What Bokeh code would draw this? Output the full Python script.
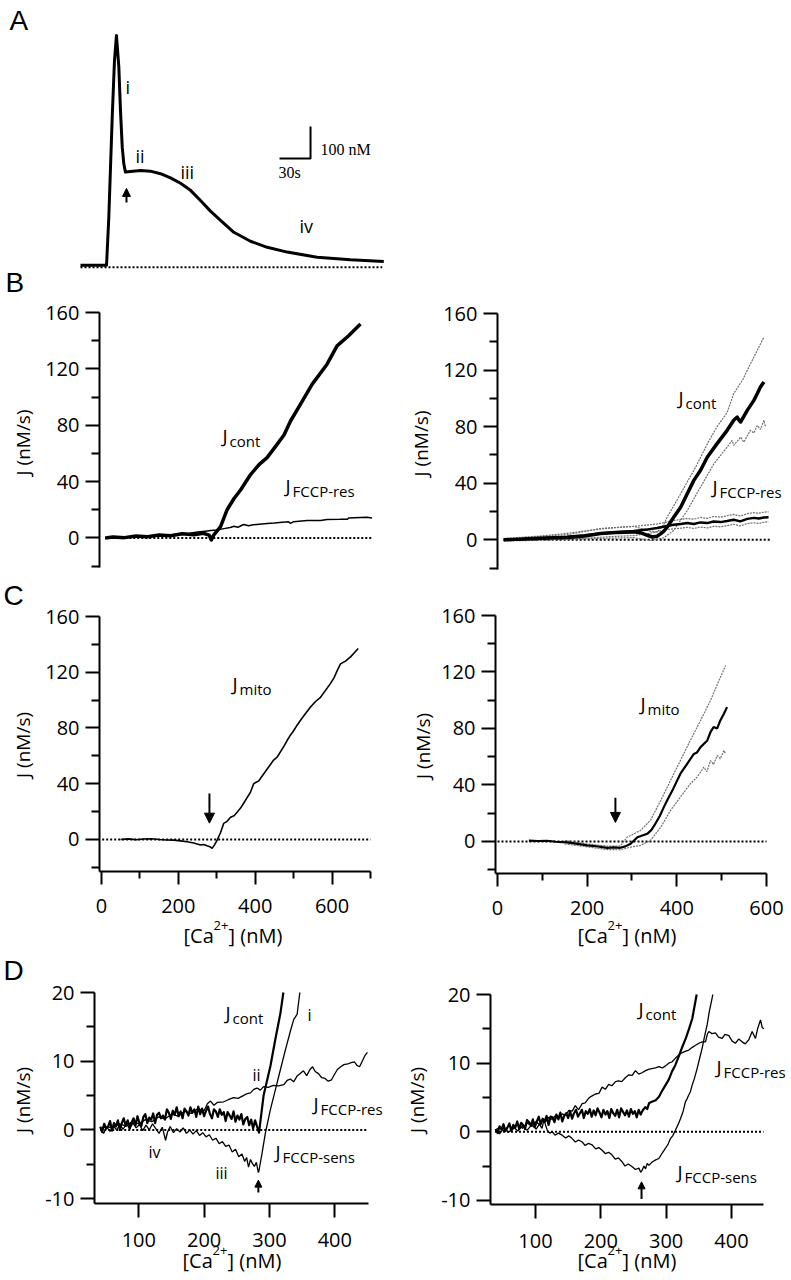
from bokeh.plotting import figure
from bokeh.models import Range1d, FixedTicker, Label, Arrow, NormalHead, LinearAxis
from bokeh.embed import file_html
from bokeh.resources import INLINE

SANS = "Open Sans"
SERIF = "Liberation Serif"
LETTER = "Liberation Sans"

# ---------------- DATA ----------------
# Panel A: [Ca2+] transient (time s, Ca nM)
a_time = [0.0, 25.2, 27.4, 30.7, 32.9, 34.8, 37.1, 38.7, 40.4, 41.9, 43.5, 58.1, 67.7, 77.4, 87.1,
          96.8, 106.5, 116.1, 125.8, 135.5, 148.4, 164.5, 180.7, 200.0, 229.0, 261.3, 293.5]
a_ca = [44, 44, 194, 507, 684, 762, 663, 527, 413, 361, 335, 340, 338, 330, 317,
        300, 278, 246, 213, 184, 147, 119, 100, 85, 69, 61, 56]
a_rest_t = [0.0, 292.0]
a_rest_ca = [38, 38]
a_scale_t, a_scale_ca = 30, 100          # scale bar: 30 s, 100 nM
a_scale_anchor = (222.6, 377.5)
a_arrow = dict(x=44.5, y0=240, y1=284)

# Panel B left: J_cont and J_FCCP-res vs [Ca]
bl_cont_x = [10, 30, 60, 90, 120, 150, 180, 210, 240, 265, 280, 286, 292, 301, 310, 327, 345, 362, 388, 410,
             431, 457, 475, 492, 518, 548, 587, 613, 643, 674]
bl_cont_y = [0, 0.6, 0.2, 1.3, 0.9, 2.0, 1.5, 2.9, 2.2, 3.3, 2.0, -1.5, 2.0, 5, 8, 20, 28, 34, 45, 52,
             57, 66.4, 73, 83, 94.9, 109, 123.3, 136.3, 143.5, 151.8]
bl_res_x = [10, 40, 80, 120, 160, 200, 230, 250, 270, 285, 300, 319, 335, 345, 355, 370, 383, 395, 431, 450,
            470, 487, 492, 500, 535, 570, 587, 620, 640, 643, 690, 704]
bl_res_y = [0, 0.3, 0.7, 1.2, 1.8, 2.6, 3.4, 4.2, 4.8, 5.2, 5.6, 6.6, 7.4, 8.3, 7.6, 9.5, 8.6, 9.3, 10.2, 10.6,
            11.2, 11.4, 10.3, 11.5, 12.3, 12.4, 13.1, 13.2, 13.3, 14.2, 14.7, 14.2]
bl_zero_x = [10, 705]

# Panel B right: mean +/- SEM
br_cont_x = [11, 40, 80, 120, 175, 220, 261, 300, 347, 364, 382, 395, 407, 416, 424, 433, 450, 468, 485, 502,
             519, 537, 562, 588, 605, 614, 619, 623, 640, 657, 666, 674, 683]
br_cont_y = [0, 0.3, 0.8, 1.2, 1.7, 2.6, 4.5, 5.2, 5.6, 5.0, 3.2, 2.0, 2.5, 4.2, 6.0, 8.9, 16, 23, 32.6, 42,
             49, 58.5, 68, 77.4, 84.5, 86.8, 84.5, 83.3, 91.5, 98.6, 103.4, 108, 111.6]
br_cont_hi_x = [11, 80, 175, 261, 347, 390, 407, 424, 433, 450, 468, 485, 502, 519, 537, 562, 588, 605, 630, 640, 666, 683]
br_cont_hi_y = [0.8, 1.8, 3.6, 8.0, 9.5, 6.0, 5.6, 10.5, 16, 24, 32.6, 41, 49, 58, 68, 80, 90, 103.4, 114, 119.9, 134, 143.4]
br_cont_lo_x = [11, 80, 175, 261, 347, 390, 424, 450, 485, 519, 554, 588, 601, 605, 623, 631, 648, 657, 666, 674, 683, 687]
br_cont_lo_y = [-0.6, -0.2, 0.4, 1.0, 1.5, -0.5, 1.4, 6.6, 20.7, 37.2, 53.8, 65.6, 70.3, 66.8, 72.6, 69, 77.4, 75.5, 80.9, 78, 84.5, 80]
br_res_x = [11, 60, 120, 175, 220, 261, 300, 347, 380, 407, 433, 450, 468, 485, 502, 519, 537, 553, 571, 588,
            605, 622, 640, 657, 670, 683, 695]
br_res_y = [0, 0.5, 1.2, 2.2, 3.3, 4.5, 5.3, 6.2, 7.2, 8.3, 9.8, 10.6, 11.2, 11.8, 11.2, 12.3, 11.8, 12.9, 12.5, 13.3,
            14.2, 13.0, 14.8, 15.5, 15.0, 15.8, 16.0]
br_res_hi = [0.8, 1.8, 3.0, 4.6, 6.2, 7.6, 8.6, 9.5, 10.4, 11.2, 12.6, 13.6, 14.4, 15.0, 14.6, 15.8, 15.2, 16.5, 16.0, 17.0,
             18.0, 16.8, 18.5, 19.2, 18.8, 19.5, 19.8]
br_res_lo = [-0.8, -0.6, -0.2, 0.4, 1.0, 1.8, 2.4, 3.0, 4.2, 5.6, 7.2, 7.8, 8.2, 8.8, 8.0, 9.0, 8.4, 9.5, 9.2, 10.0,
             11.0, 9.8, 11.5, 12.0, 11.6, 12.4, 12.8]
br_zero_x = [11, 700]

# Panel C left: J_mito
cl_x = [50, 70, 90, 110, 128, 150, 170, 188, 205, 223, 240, 258, 266, 275, 282, 288, 295, 301, 310, 318,
        327, 336, 345, 353, 362, 370, 379, 388, 396, 409, 422, 435, 448, 457, 466, 475, 483, 492, 500, 509,
        518, 530, 544, 557, 570, 583, 596, 605, 613, 622, 635, 648, 658, 668]
cl_y = [0, 0.4, -0.2, 0.3, 0.5, 0.0, -0.4, -0.5, -1.0, -1.7, -2.5, -4.0, -3.6, -4.6, -5.2, -6.4, -3.5, -0.5, 5, 11.5,
        13, 16, 17, 19.5, 22.5, 26, 30, 34, 40, 42, 47, 52, 57, 59, 63, 67, 71, 75, 78, 82,
        85.5, 90, 95, 99, 102, 107, 112, 116, 121, 126, 128, 131, 134, 137]
cl_zero_x = [2, 700]
cl_arrow = dict(x=281, y0=33, y1=11.7)

# Panel C right: J_mito mean +/- SEM
cr_x = [70, 90, 110, 130, 155, 175, 200, 220, 245, 260, 274, 285, 297, 312, 323, 334, 343, 352, 362, 371,
        380, 390, 399, 408, 423, 438, 445, 453, 460, 468, 475, 482, 490, 497, 505, 512]
cr_y = [0.6, 0.3, 0.5, -0.2, -0.6, -1.5, -2.8, -3.4, -4.5, -4.2, -4.5, -3.5, -1.6, 3.0, 4.2, 5.4, 8.0, 12.5, 18, 24.3,
        30, 36, 42, 48, 55, 62, 63, 66.8, 69, 71.5, 77.4, 81, 80, 85.7, 90.4, 95.1]
cr_hi_x = [150, 200, 245, 274, 289, 305, 319, 341, 364, 386, 408, 430, 453, 475, 494, 509]
cr_hi_y = [0.6, -1.8, -3.3, -3.2, 3, 5.5, 7.8, 14.9, 29, 43.2, 57.3, 71.5, 85.7, 99.8, 114, 124.6]
cr_lo_x = [150, 200, 245, 274, 297, 319, 341, 364, 386, 408, 430, 445, 454, 460, 467, 475, 482, 490, 497, 505, 509]
cr_lo_y = [-1.8, -3.8, -5.8, -5.9, -4, -2.8, 0.7, 10, 22, 31.4, 40.8, 45.5, 49.5, 52.6, 49.5, 57.3, 54.5, 60.9, 58.5, 64.4, 62]
cr_zero_x = [0, 600]
cr_arrow = dict(x=263, y0=31, y1=13.5)

# Panel D left
dl_cont_x = [41, 44, 47, 50, 53, 56, 59, 62, 65, 68, 71, 74, 77, 80, 83, 86, 89, 92, 95, 98,
             101, 104, 107, 110, 113, 116, 119, 122, 125, 128, 131, 134, 137, 140, 143, 146, 149, 152, 155, 158,
             161, 164, 167, 170, 173, 176, 179, 182, 185, 188, 191, 194, 197, 200, 203, 206, 209, 212, 215, 218,
             221, 224, 227, 230, 233, 236, 239, 242, 245, 248, 251, 254, 257, 260, 263, 266, 269, 272, 275, 278,
             281, 284, 291, 301.5, 309, 316.8, 321.3]
dl_cont_y = [0.5, -0.3, 0.9, 0.2, 0.5, 1.3, -0.1, 1.0, 0.5, 1.4, 0.0, 1.0, 1.7, 0.6, 1.4, 0.2, 1.1, 1.7, 0.7, 2.0,
             1.0, 0.6, 1.9, 2.3, 1.0, 1.8, 1.5, 2.4, 1.0, 2.2, 2.5, 1.7, 2.1, 1.5, 3.0, 2.5, 1.6, 2.8, 2.2, 3.3,
             2.0, 2.7, 1.7, 3.1, 2.7, 2.1, 3.3, 2.5, 3.0, 1.9, 3.4, 2.3, 3.1, 2.0, 2.8, 3.4, 2.3, 1.7, 3.0, 2.7,
             1.9, 3.0, 2.2, 2.6, 1.3, 2.6, 2.1, 1.6, 2.7, 1.2, 2.1, 1.5, 2.3, 0.8, 1.6, 1.9, 0.7, 1.5, 0.2, 1.4,
             0.5, -0.4, 5.0, 9.3, 13.2, 17.0, 20.0]
dl_res_x = [41, 50, 60, 70, 80, 90, 100, 110, 120, 130, 140, 150, 160, 170, 180, 190, 200, 205, 209.7, 215,
            220, 230, 237, 245, 252, 260, 266, 271, 276, 281, 286, 291, 298, 306, 314, 322, 327, 332, 337, 342,
            347, 352, 357, 362, 366, 370, 375, 380, 385, 390, 395, 399, 404, 409, 414, 420, 425, 430, 434, 438,
            442, 446, 450]
dl_res_y = [0.2, 0.5, 0.3, 0.9, 0.6, 1.2, 0.9, 1.5, 1.2, 1.9, 1.6, 2.3, 2.0, 2.7, 2.4, 3.1, 2.8, 3.8, 4.2, 3.6,
            4.0, 4.1, 4.4, 4.7, 4.6, 5.0, 5.3, 5.4, 5.9, 6.1, 5.8, 6.3, 6.2, 6.5, 6.4, 6.6, 7.2, 7.4, 7.0, 7.8,
            8.2, 8.6, 7.9, 8.8, 9.2, 8.5, 8.2, 7.6, 7.5, 7.1, 7.3, 8.0, 8.8, 9.2, 9.5, 9.6, 9.8, 9.9, 9.4, 9.2,
            10.0, 10.8, 11.3]
dl_sens_x = [41, 46, 51, 56, 61, 66, 71, 76, 81, 86, 91, 96, 101, 106, 111, 116, 121, 126, 131, 136,
             141, 144, 148, 153, 158, 163, 168, 173, 178, 183, 188, 193, 198, 203, 208, 213, 218, 223, 228, 233,
             238, 243, 248, 253, 258, 262, 265, 268, 271, 274, 277, 280, 283, 284, 288.8, 293.9, 301.5, 309.2, 316.8, 324.5,
             332.1, 337.2, 342.3, 346.5]
dl_sens_y = [0.2, -0.5, 0.4, -0.2, 0.6, 0.0, 0.8, 0.1, 0.9, 0.2, 1.0, 0.3, 0.8, -0.1, 0.7, 0.0, 0.9, 0.2, -0.5, 0.4,
             -1.5, -0.3, 0.5, -0.4, 0.2, -0.3, 0.3, -0.5, 0.0, -0.6, -0.1, -0.8, -0.4, -1.0, -0.7, -1.5, -1.2, -2.0, -1.7, -2.4,
             -2.2, -3.2, -2.8, -3.9, -3.5, -4.6, -4.0, -5.4, -4.3, -4.9, -5.3, -4.7, -6.2, -5.9, -3.3, -0.4, 3.0, 5.9, 8.8, 11.7,
             14.4, 16.1, 16.8, 20.0]
dl_zero_x = [41, 451]
dl_arrow = dict(x=283, y0=-9.1, y1=-7.3)

# Panel D right
dr_cont_x = [39, 42, 45, 48, 51, 54, 57, 60, 63, 66, 69, 72, 75, 78, 81, 84, 87, 90, 93, 96,
             99, 102, 105, 108, 111, 114, 117, 120, 123, 126, 129, 132, 135, 138, 141, 144, 147, 150, 153, 156,
             159, 162, 165, 168, 171, 174, 177, 180, 183, 186, 189, 192, 195, 198, 201, 204, 207, 210, 213, 216,
             219, 222, 225, 228, 231, 234, 237, 240, 243, 246, 249, 252, 255, 258, 261, 264,
             268, 271, 274, 279, 284, 289, 294, 299, 304, 309, 314, 319, 324, 330, 335, 340, 346.7]
dr_cont_y = [0.4, -0.2, 0.8, 0.3, 1.1, 0.1, 0.6, 1.2, 0.1, 1.0, 0.6, 1.5, 0.4, 1.3, 1.0, 0.4, 1.7, 1.4, 0.9, 1.8,
             0.7, 1.5, 2.2, 1.1, 1.9, 1.5, 2.3, 1.0, 2.2, 2.1, 1.4, 2.5, 1.8, 2.8, 1.5, 2.3, 2.7, 2.0, 3.0, 1.9,
             2.7, 3.2, 2.2, 2.7, 3.2, 2.0, 3.0, 2.6, 3.3, 2.2, 3.1, 2.4, 3.4, 2.8, 2.1, 3.2, 2.5, 3.0, 2.0, 3.3,
             2.7, 2.3, 3.2, 2.1, 3.4, 2.9, 2.4, 3.1, 2.2, 3.3, 2.6, 3.0, 2.1, 3.2, 2.5, 3.1,
             3.6, 3.3, 4.2, 4.4, 4.6, 5.1, 6.0, 6.8, 7.6, 8.8, 9.7, 10.9, 12.2, 13.6, 15.0, 16.5, 20.0]
dr_res_x = [38.8, 45, 52, 59, 66, 73, 80, 87, 94, 101, 106, 110.2, 115, 120, 125.5, 131, 136, 140.8, 146, 151,
            156.1, 161, 166, 171.4, 176, 181.6, 186, 191.8, 197, 202, 207.1, 212, 217, 222.4, 227, 232, 237.8, 243, 248, 253,
            258, 263, 268.4, 273, 278, 283.7, 289, 294, 299, 304, 309.2, 314, 319.4, 324, 329, 334.7, 340, 345, 350, 355,
            360.2, 363, 365.3, 370, 375.5, 380, 385.7, 390, 396, 401, 406, 411, 416.3, 421, 426.5, 431.6, 436.7, 440, 444.4, 447,
            449.5]
dr_res_y = [0.2, 0.7, 0.1, 0.9, 0.4, 1.1, 0.5, 1.3, 0.8, 1.5, 1.0, 1.7, 1.4, 2.1, 1.8, 2.4, 2.0, 2.6, 2.4, 3.1,
            3.0, 3.8, 3.2, 4.1, 4.2, 4.9, 5.2, 5.5, 5.6, 6.5, 6.2, 6.9, 6.7, 7.3, 7.4, 7.3, 7.9, 8.3, 8.2, 8.9,
            8.4, 8.6, 8.9, 9.1, 9.2, 9.3, 9.5, 9.3, 9.6, 10.0, 10.2, 10.7, 11.2, 11.5, 11.7, 11.9, 12.3, 12.6, 12.9, 13.1,
            13.1, 14.2, 14.6, 14.3, 14.4, 13.8, 13.6, 14.2, 14.0, 13.2, 12.9, 13.5, 13.1, 12.8, 13.4, 14.6, 13.6, 15.0, 16.3, 15.2,
            15.0]
dr_sens_x = [38.8, 45, 52, 59, 66, 73, 80, 87, 94, 101, 106, 110, 113, 115.3, 118, 122, 125.5, 130, 135, 140.8,
             146, 151, 156.1, 161, 166, 171.4, 176, 181, 186.7, 192, 197, 202, 207, 212, 217.3, 222, 227, 232.7, 237, 242,
             248, 253, 258.2, 261, 263.3, 266, 268.4, 271, 273.5, 278.6, 284, 288.8, 294, 299, 303, 306.6, 310, 314.3, 318, 321.9,
             326, 329.6, 332, 334.7, 337, 339.8, 343, 347.4, 351, 355.1, 359, 362.8, 366, 370.4, 371.3]
dr_sens_y = [0.3, -0.3, 0.6, -0.1, 0.7, 0.1, 0.9, 0.2, 1.0, 0.4, 1.1, 0.5, 1.8, 1.0, 0.2, -0.2, 0.0, -0.5, -0.2, -0.5,
             -0.9, -0.6, -1.0, -1.5, -1.2, -1.5, -2.0, -1.7, -1.9, -2.5, -2.3, -2.7, -3.2, -3.0, -3.4, -4.0, -3.8, -4.4, -5.0, -4.7,
             -5.1, -5.5, -5.3, -5.9, -5.6, -5.0, -5.4, -4.6, -4.9, -4.4, -4.1, -3.9, -3.1, -2.4, -1.8, -1.0, -0.6, 0.25, 1.0, 1.9,
             3.0, 4.4, 4.8, 5.4, 5.8, 6.8, 7.7, 9.2, 10.6, 12.2, 14.0, 15.6, 17.5, 19.5, 20.0]
dr_zero_x = [38, 449]
dr_arrow = dict(x=262.3, y0=-9.8, y1=-7.3)

# axis ticks and titles
bc_y_major = [0, 40, 80, 120, 160]
bc_y_minor = [-20, 20, 60, 100, 140]
cl_x_major = [0, 200, 400, 600]
cl_x_minor = [100, 300, 500, 700]
cr_x_major = [0, 200, 400, 600]
cr_x_minor = [100, 300, 500]
d_y_major = [-10, 0, 10, 20]
d_y_minor = [-5, 5, 15]
d_x_major = [100, 200, 300, 400]
j_label_b = "J (nM/s)"
j_label_cd = "J  (nM/s)"

# ---------------- LAYOUT (page pixel geometry of every panel) ----------------
CW, CH = 791, 1280
GEO = {
    "A":  dict(fl=80,  ft=234, fw=31,  fh=32,  xr=(0, 30), yr=(40, 140)),
    "BL": dict(fl=99,  ft=312, fw=271, fh=255, xr=(-5, 700), yr=(-21, 160)),
    "BR": dict(fl=497, ft=313, fw=273, fh=256, xr=(-5, 700), yr=(-21, 160)),
    "CL": dict(fl=99,  ft=616, fw=271, fh=255, xr=(-5, 700), yr=(-23, 160)),
    "CR": dict(fl=495, ft=615, fw=271, fh=258, xr=(-4.46, 600), yr=(-22.7, 160)),
    "DL": dict(fl=94,  ft=992, fw=274, fh=211, xr=(32.2, 451.6), yr=(-10.7, 20)),
    "DR": dict(fl=490, ft=994, fw=273, fh=210, xr=(31.1, 449), yr=(-10.6, 20)),
}

p = figure(frame_width=CW, frame_height=CH,
           min_border_left=0, min_border_right=0, min_border_top=0, min_border_bottom=0,
           x_range=Range1d(0, CW), y_range=Range1d(-CH, 0),
           x_axis_location=None, y_axis_location=None,
           toolbar_location=None, tools="", output_backend="svg")
p.outline_line_color = None
p.grid.visible = False
p.background_fill_color = "white"
p.border_fill_color = "white"

xr_extra, yr_extra = {}, {}
for name, g in GEO.items():
    sx = g["fw"] / (g["xr"][1] - g["xr"][0])
    sy = g["fh"] / (g["yr"][1] - g["yr"][0])
    x0 = g["xr"][0] - g["fl"] / sx
    xr_extra[name] = Range1d(x0, x0 + CW / sx)
    ytop = g["yr"][1] + g["ft"] / sy
    yr_extra[name] = Range1d(ytop - CH / sy, ytop)
p.extra_x_ranges = xr_extra
p.extra_y_ranges = yr_extra


def style_axis(ax, major, minor, standoff, tick_out=14, minor_out=8, overrides=None):
    ax.ticker = FixedTicker(ticks=major, minor_ticks=minor)
    ax.axis_line_width = 2
    ax.axis_line_color = "black"
    ax.major_tick_line_width = 2
    ax.minor_tick_line_width = 2
    ax.major_tick_line_color = "black"
    ax.minor_tick_line_color = "black"
    ax.major_tick_in = 0
    ax.major_tick_out = tick_out
    ax.minor_tick_in = 0
    ax.minor_tick_out = minor_out
    ax.major_label_text_font = SANS
    ax.major_label_text_font_size = "20px"
    ax.major_label_text_color = "black"
    ax.major_label_standoff = standoff
    if overrides:
        ax.major_label_overrides = overrides


def y_axis(name, major, minor, overrides=None):
    g = GEO[name]
    ax = LinearAxis(x_range_name=name, y_range_name=name, fixed_location=g["xr"][0], bounds=g["yr"])
    style_axis(ax, major, minor, 6, overrides=overrides)
    p.add_layout(ax, "left")


def x_axis(name, major, minor, bounds, standoff, tick_out, minor_out):
    g = GEO[name]
    ax = LinearAxis(x_range_name=name, y_range_name=name, fixed_location=g["yr"][0], bounds=bounds)
    style_axis(ax, major, minor, standoff, tick_out=tick_out, minor_out=minor_out)
    p.add_layout(ax, "below")


def txt(X, Yb, text, size, font=SANS, align="left"):
    # X, Yb: left edge and baseline in page pixels; drawn by its middle
    p.add_layout(Label(x=X, y=-(Yb - 0.35 * size), text=text, text_font=font,
                       text_font_size=f"{size}px", text_align=align, text_baseline="middle",
                       text_color="black"))


def vtxt(X, Y, text, size=19):
    p.add_layout(Label(x=X, y=-Y, text=text, text_font=SANS, text_font_size=f"{size}px",
                       text_align="center", text_baseline="middle", angle=90, angle_units="deg",
                       text_color="black"))


def jlab(X, Yb, sub, gap=7, drop=4, s1=19, s2=15):
    txt(X, Yb, "J", s1)
    txt(X + gap, Yb + drop, sub, s2)


def calab(X, Yb):
    txt(X, Yb, "[Ca", 20)
    txt(X + 30, Yb - 12, "2+", 13)
    txt(X + 45, Yb, "] (nM)", 20)


def arrow(name, a, size=9):
    p.add_layout(Arrow(end=NormalHead(size=size, fill_color="black", line_color="black", line_width=1),
                       x_start=a["x"], y_start=a["y0"], x_end=a["x"], y_end=a["y1"],
                       x_range_name=name, y_range_name=name, line_width=2, line_color="black"))


def line(name, xs, ys, **kw):
    p.line(xs, ys, x_range_name=name, y_range_name=name, **kw)


def zero_line(name, xs):
    line(name, xs, [0, 0], line_color="black", line_width=2, line_dash="2 2")


sem = dict(line_color="#6f6f6f", line_width=1.2, line_dash="2 1")
minus = {-10: "-10"}

# ---------------- Panel A ----------------
line("A", a_rest_t, [v for v in a_rest_ca], line_color="black", line_width=2, line_dash="2 2")
line("A", a_time, a_ca, line_color="black", line_width=3, line_join="round")
t1, c0 = a_scale_anchor
line("A", [t1 - a_scale_t, t1, t1], [c0, c0, c0 + a_scale_ca], line_color="black", line_width=2)
arrow("A", a_arrow, size=8)
txt(9, 30, "A", 28, font=LETTER)
txt(125, 93, "i", 18)
txt(135, 162, "ii", 18)
txt(180, 178, "iii", 18)
txt(299, 232, "iv", 18)
txt(320, 155, "100 nM", 16, font=SERIF)
txt(278, 178, "30s", 16, font=SERIF)

# ---------------- Panel B ----------------
txt(5, 292, "B", 28, font=LETTER)
y_axis("BL", bc_y_major, bc_y_minor)
vtxt(22, 442, j_label_b)
zero_line("BL", bl_zero_x)
line("BL", bl_res_x, bl_res_y, line_color="black", line_width=1.5)
line("BL", bl_cont_x, bl_cont_y, line_color="black", line_width=3.5, line_join="round")
jlab(222, 442, "cont")
jlab(285, 492, "FCCP-res")

y_axis("BR", bc_y_major, bc_y_minor)
vtxt(420, 443, j_label_b)
zero_line("BR", br_zero_x)
line("BR", br_cont_hi_x, br_cont_hi_y, **sem)
line("BR", br_cont_lo_x, br_cont_lo_y, **sem)
line("BR", br_res_x, br_res_hi, **sem)
line("BR", br_res_x, br_res_lo, **sem)
line("BR", br_res_x, br_res_y, line_color="black", line_width=2.5)
line("BR", br_cont_x, br_cont_y, line_color="black", line_width=3.5, line_join="round")
jlab(678, 404, "cont")
jlab(712, 493, "FCCP-res")

# ---------------- Panel C ----------------
txt(3, 605, "C", 28, font=LETTER)
y_axis("CL", bc_y_major, bc_y_minor)
x_axis("CL", cl_x_major, cl_x_minor, (-5, 700), 14, 13, 7)
vtxt(22, 742, j_label_cd)
calab(183, 942)
zero_line("CL", cl_zero_x)
line("CL", cl_x, cl_y, line_color="black", line_width=1.6)
arrow("CL", cl_arrow, size=10)
jlab(232, 690, "mito")

y_axis("CR", bc_y_major, bc_y_minor)
x_axis("CR", cr_x_major, cr_x_minor, (-4.46, 600), 14, 13, 7)
vtxt(422, 743, j_label_cd)
calab(577, 942)
zero_line("CR", cr_zero_x)
line("CR", cr_hi_x, cr_hi_y, **sem)
line("CR", cr_lo_x, cr_lo_y, **sem)
line("CR", cr_x, cr_y, line_color="black", line_width=2.2)
arrow("CR", cr_arrow, size=10)
jlab(640, 710, "mito")

# ---------------- Panel D ----------------
txt(3, 980, "D", 28, font=LETTER)
y_axis("DL", d_y_major, d_y_minor, overrides=minus)
x_axis("DL", d_x_major, [], (32.2, 451.6), 15, 14, 0)
vtxt(22, 1097, j_label_cd)
calab(182, 1267)
zero_line("DL", dl_zero_x)
line("DL", dl_res_x, dl_res_y, line_color="black", line_width=1.3)
line("DL", dl_sens_x, dl_sens_y, line_color="black", line_width=1.3)
line("DL", dl_cont_x, dl_cont_y, line_color="black", line_width=2.2, line_join="round")
arrow("DL", dl_arrow, size=7)
jlab(225, 1019, "cont")
jlab(313, 1110, "FCCP-res")
jlab(275, 1158, "FCCP-sens")
txt(307, 1020, "i", 16)
txt(252, 1080, "ii", 16)
txt(215, 1178, "iii", 16)
txt(148, 1157, "iv", 16)

y_axis("DR", d_y_major, d_y_minor, overrides=minus)
x_axis("DR", d_x_major, [], (31.1, 449), 15, 14, 0)
vtxt(416, 1097, j_label_cd)
calab(577, 1267)
zero_line("DR", dr_zero_x)
line("DR", dr_res_x, dr_res_y, line_color="black", line_width=1.3)
line("DR", dr_sens_x, dr_sens_y, line_color="black", line_width=1.3)
line("DR", dr_cont_x, dr_cont_y, line_color="black", line_width=2.2, line_join="round")
arrow("DR", dr_arrow, size=7)
jlab(638, 1015, "cont")
jlab(716, 1073, "FCCP-res")
jlab(677, 1178, "FCCP-sens")

open("out.html", "w").write(file_html(p, INLINE, "Figure"))
